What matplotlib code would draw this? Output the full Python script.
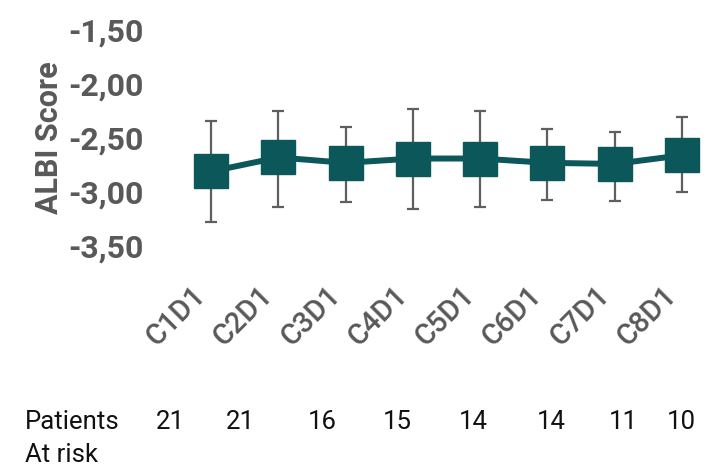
import numpy as np
import matplotlib
matplotlib.use("Agg")
import matplotlib.pyplot as plt

plt.rcParams['font.family'] = ['Roboto', 'DejaVu Sans']

visits = ["C1D1", "C2D1", "C3D1", "C4D1", "C5D1", "C6D1", "C7D1", "C8D1"]
albi_mean = [-2.81, -2.68, -2.73, -2.69, -2.69, -2.73, -2.74, -2.66]
albi_upper = [-2.34, -2.25, -2.40, -2.23, -2.25, -2.42, -2.44, -2.31]
albi_lower = [-3.28, -3.14, -3.09, -3.16, -3.14, -3.07, -3.08, -3.00]
at_risk = [21, 21, 16, 15, 14, 14, 11, 10]
yticks = [-1.5, -2.0, -2.5, -3.0, -3.5]

# horizontal pixel positions of the at-risk counts
risk_x_px = [170, 240, 322, 397, 473, 551, 623, 681]

teal = "#0b5759"
grey = "#595959"
W, H = 722, 467

fig = plt.figure(figsize=(W / 100, H / 100), dpi=100)
ax = fig.add_axes([160 / W, 1 - 246 / H, 555 / W, 216 / H])

x = np.arange(len(visits))
mean = np.array(albi_mean)
err = [mean - np.array(albi_lower), np.array(albi_upper) - mean]

ax.errorbar(x, mean, yerr=err, fmt="none", ecolor="#5f5f5f", elinewidth=1.6,
            capsize=4.3, capthick=1.6, zorder=1, clip_on=False)
ax.plot(x, mean, color=teal, lw=4.3, marker="s", ms=24.5, mfc=teal, mec=teal,
        zorder=2, clip_on=False)

ax.set_xlim(-0.758, 7.49)
ax.set_ylim(-3.5, -1.5)
ax.set_yticks(yticks)
ax.set_yticklabels([f"{v:.2f}".replace(".", ",") for v in yticks],
                   fontsize=23, fontweight="bold", color=grey)
ax.set_xticks(x)
ax.set_xticklabels(visits, rotation=45, ha="right", fontsize=21,
                   fontweight="medium", color=grey)
ax.tick_params(axis="y", length=0, pad=12)
ax.tick_params(axis="x", length=0, pad=25)
for s in ax.spines.values():
    s.set_visible(False)

ax.set_ylabel("ALBI Score", fontsize=22, fontweight="bold", color=grey, labelpad=3)

# patients at risk row
row_y = 1 - 429 / H
fig.text(25 / W, row_y, "Patients", fontsize=18.5, color="#111111",
         va="baseline", ha="left")
fig.text(25 / W, 1 - 462 / H, "At risk", fontsize=18.5, color="#111111",
         va="baseline", ha="left")
for px, n in zip(risk_x_px, at_risk):
    fig.text(px / W, row_y, str(n), fontsize=18.5, color="#111111",
             ha="center", va="baseline")

fig.savefig("out.png", dpi=100)
